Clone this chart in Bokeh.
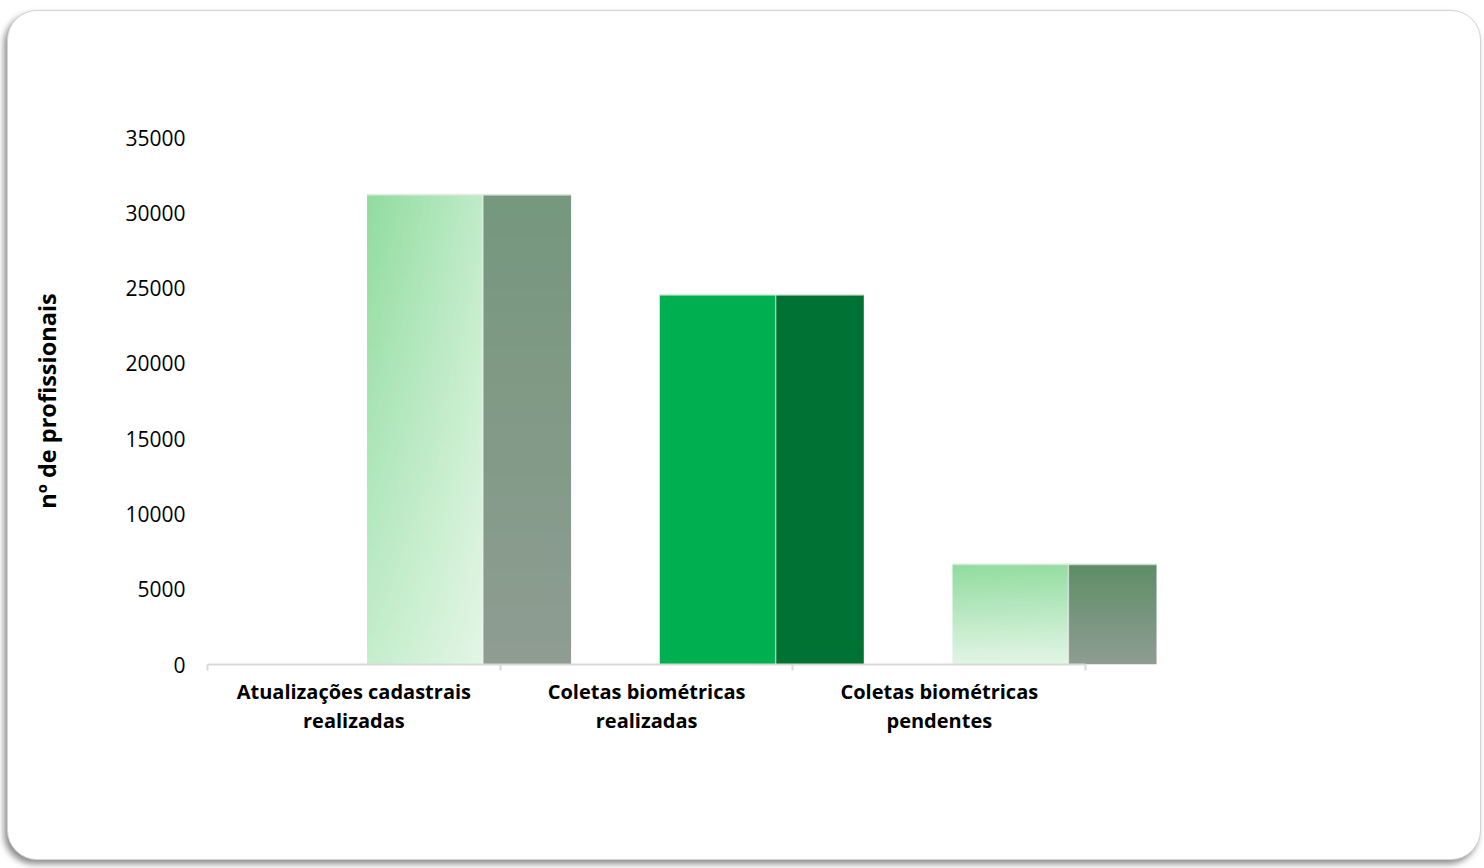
import numpy as np
from bokeh.plotting import figure
from bokeh.models import Range1d, FixedTicker
from bokeh.embed import file_html
from bokeh.resources import INLINE

# ---- data ----
categories = ["Atualizações cadastrais\nrealizadas",
              "Coletas biométricas\nrealizadas",
              "Coletas biométricas\npendentes"]
values = [31200, 24550, 6650]
y_ticks = [0, 5000, 10000, 15000, 20000, 25000, 30000, 35000]
y_title = "nº de profissionais"

# ---- styles ----
FONT = "Open Sans"
FRONT_OFF = 0.545
FRONT_W = 0.396
SIDE_W = 0.301


def grad(tl, tr, bl, br, n=64):
    u = np.linspace(0, 1, n)
    v = np.linspace(0, 1, n)
    img = np.zeros((n, n, 4), dtype=np.uint8)
    for ch in range(3):
        bottom = bl[ch] * (1 - u) + br[ch] * u
        top = tl[ch] * (1 - u) + tr[ch] * u
        img[:, :, ch] = np.clip(bottom[None, :] * (1 - v[:, None]) + top[None, :] * v[:, None], 0, 255).astype(np.uint8)
    img[:, :, 3] = 255
    return img.view(np.uint32).reshape(n, n)


front_imgs = [
    grad((146, 220, 160), (192, 236, 200), (196, 238, 204), (228, 246, 230)),
    grad((0, 176, 80), (0, 176, 80), (0, 176, 80), (0, 176, 80)),
    grad((146, 220, 160), (150, 222, 163), (226, 245, 229), (228, 246, 231)),
]
side_imgs = [
    grad((118, 152, 126), (118, 152, 126), (143, 157, 146), (143, 157, 146)),
    grad((0, 115, 52), (0, 115, 52), (0, 115, 52), (0, 115, 52)),
    grad((94, 142, 104), (94, 142, 104), (143, 157, 146), (143, 157, 146)),
]

p = figure(width=1474, height=850, output_backend="svg", toolbar_location=None,
           x_range=Range1d(0, 3.3), y_range=Range1d(0, 35000),
           min_border_left=199, min_border_right=309, min_border_top=126, min_border_bottom=197)
p.styles = {"border-radius": "30px", "box-shadow": "-3px 4px 6px rgba(0,0,0,0.45)",
            "border": "1px solid #d4d4d4", "background-color": "white", "overflow": "hidden",
            "margin": "10px 0 0 7px"}
p.border_fill_color = None
p.background_fill_color = None
p.outline_line_color = None
p.grid.visible = False

for i, v in enumerate(values):
    x0 = i + FRONT_OFF
    p.image_rgba(image=[front_imgs[i]], x=x0, y=0, dw=FRONT_W, dh=v)
    p.image_rgba(image=[side_imgs[i]], x=x0 + FRONT_W, y=0, dw=SIDE_W, dh=v)
    # light edge between faces
    p.segment(x0=x0 + FRONT_W, y0=0, x1=x0 + FRONT_W, y1=v, line_color="white", line_alpha=0.5, line_width=1.5)
    # rim on top
    p.segment(x0=x0, y0=v, x1=x0 + FRONT_W + SIDE_W, y1=v, line_color="#dfe9e0", line_alpha=0.7, line_width=2)

# x axis
xa = p.xaxis[0]
xa.ticker = FixedTicker(ticks=[0.5, 1.5, 2.5], minor_ticks=[0, 1, 2, 3])
xa.major_label_overrides = {0.5: categories[0], 1.5: categories[1], 2.5: categories[2]}
xa.bounds = (0, 3)
xa.axis_line_color = "#d9d9d9"
xa.axis_line_width = 2
xa.major_tick_line_color = None
xa.major_tick_in = 0
xa.major_tick_out = 0
xa.minor_tick_line_color = "#d9d9d9"
xa.minor_tick_line_width = 2
xa.minor_tick_in = 0
xa.minor_tick_out = 6
xa.major_label_standoff = 7
xa.major_label_text_font = FONT
xa.major_label_text_font_style = "bold"
xa.major_label_text_font_size = "20px"
xa.major_label_text_color = "black"
xa.major_label_text_line_height = 1.1

# y axis
ya = p.yaxis[0]
ya.ticker = FixedTicker(ticks=y_ticks)
ya.major_label_overrides = {t: str(t) for t in y_ticks}
ya.axis_line_color = None
ya.major_tick_line_color = None
ya.minor_tick_line_color = None
ya.major_tick_in = 0
ya.major_tick_out = 0
ya.major_label_standoff = 22
ya.major_label_text_font = FONT
ya.major_label_text_font_size = "21px"
ya.major_label_text_color = "black"
ya.axis_label = y_title
ya.axis_label_text_font = FONT
ya.axis_label_text_font_style = "bold"
ya.axis_label_text_font_size = "23.5px"
ya.axis_label_text_color = "black"
ya.axis_label_standoff = 59

open("out.html", "w").write(file_html(p, INLINE))
